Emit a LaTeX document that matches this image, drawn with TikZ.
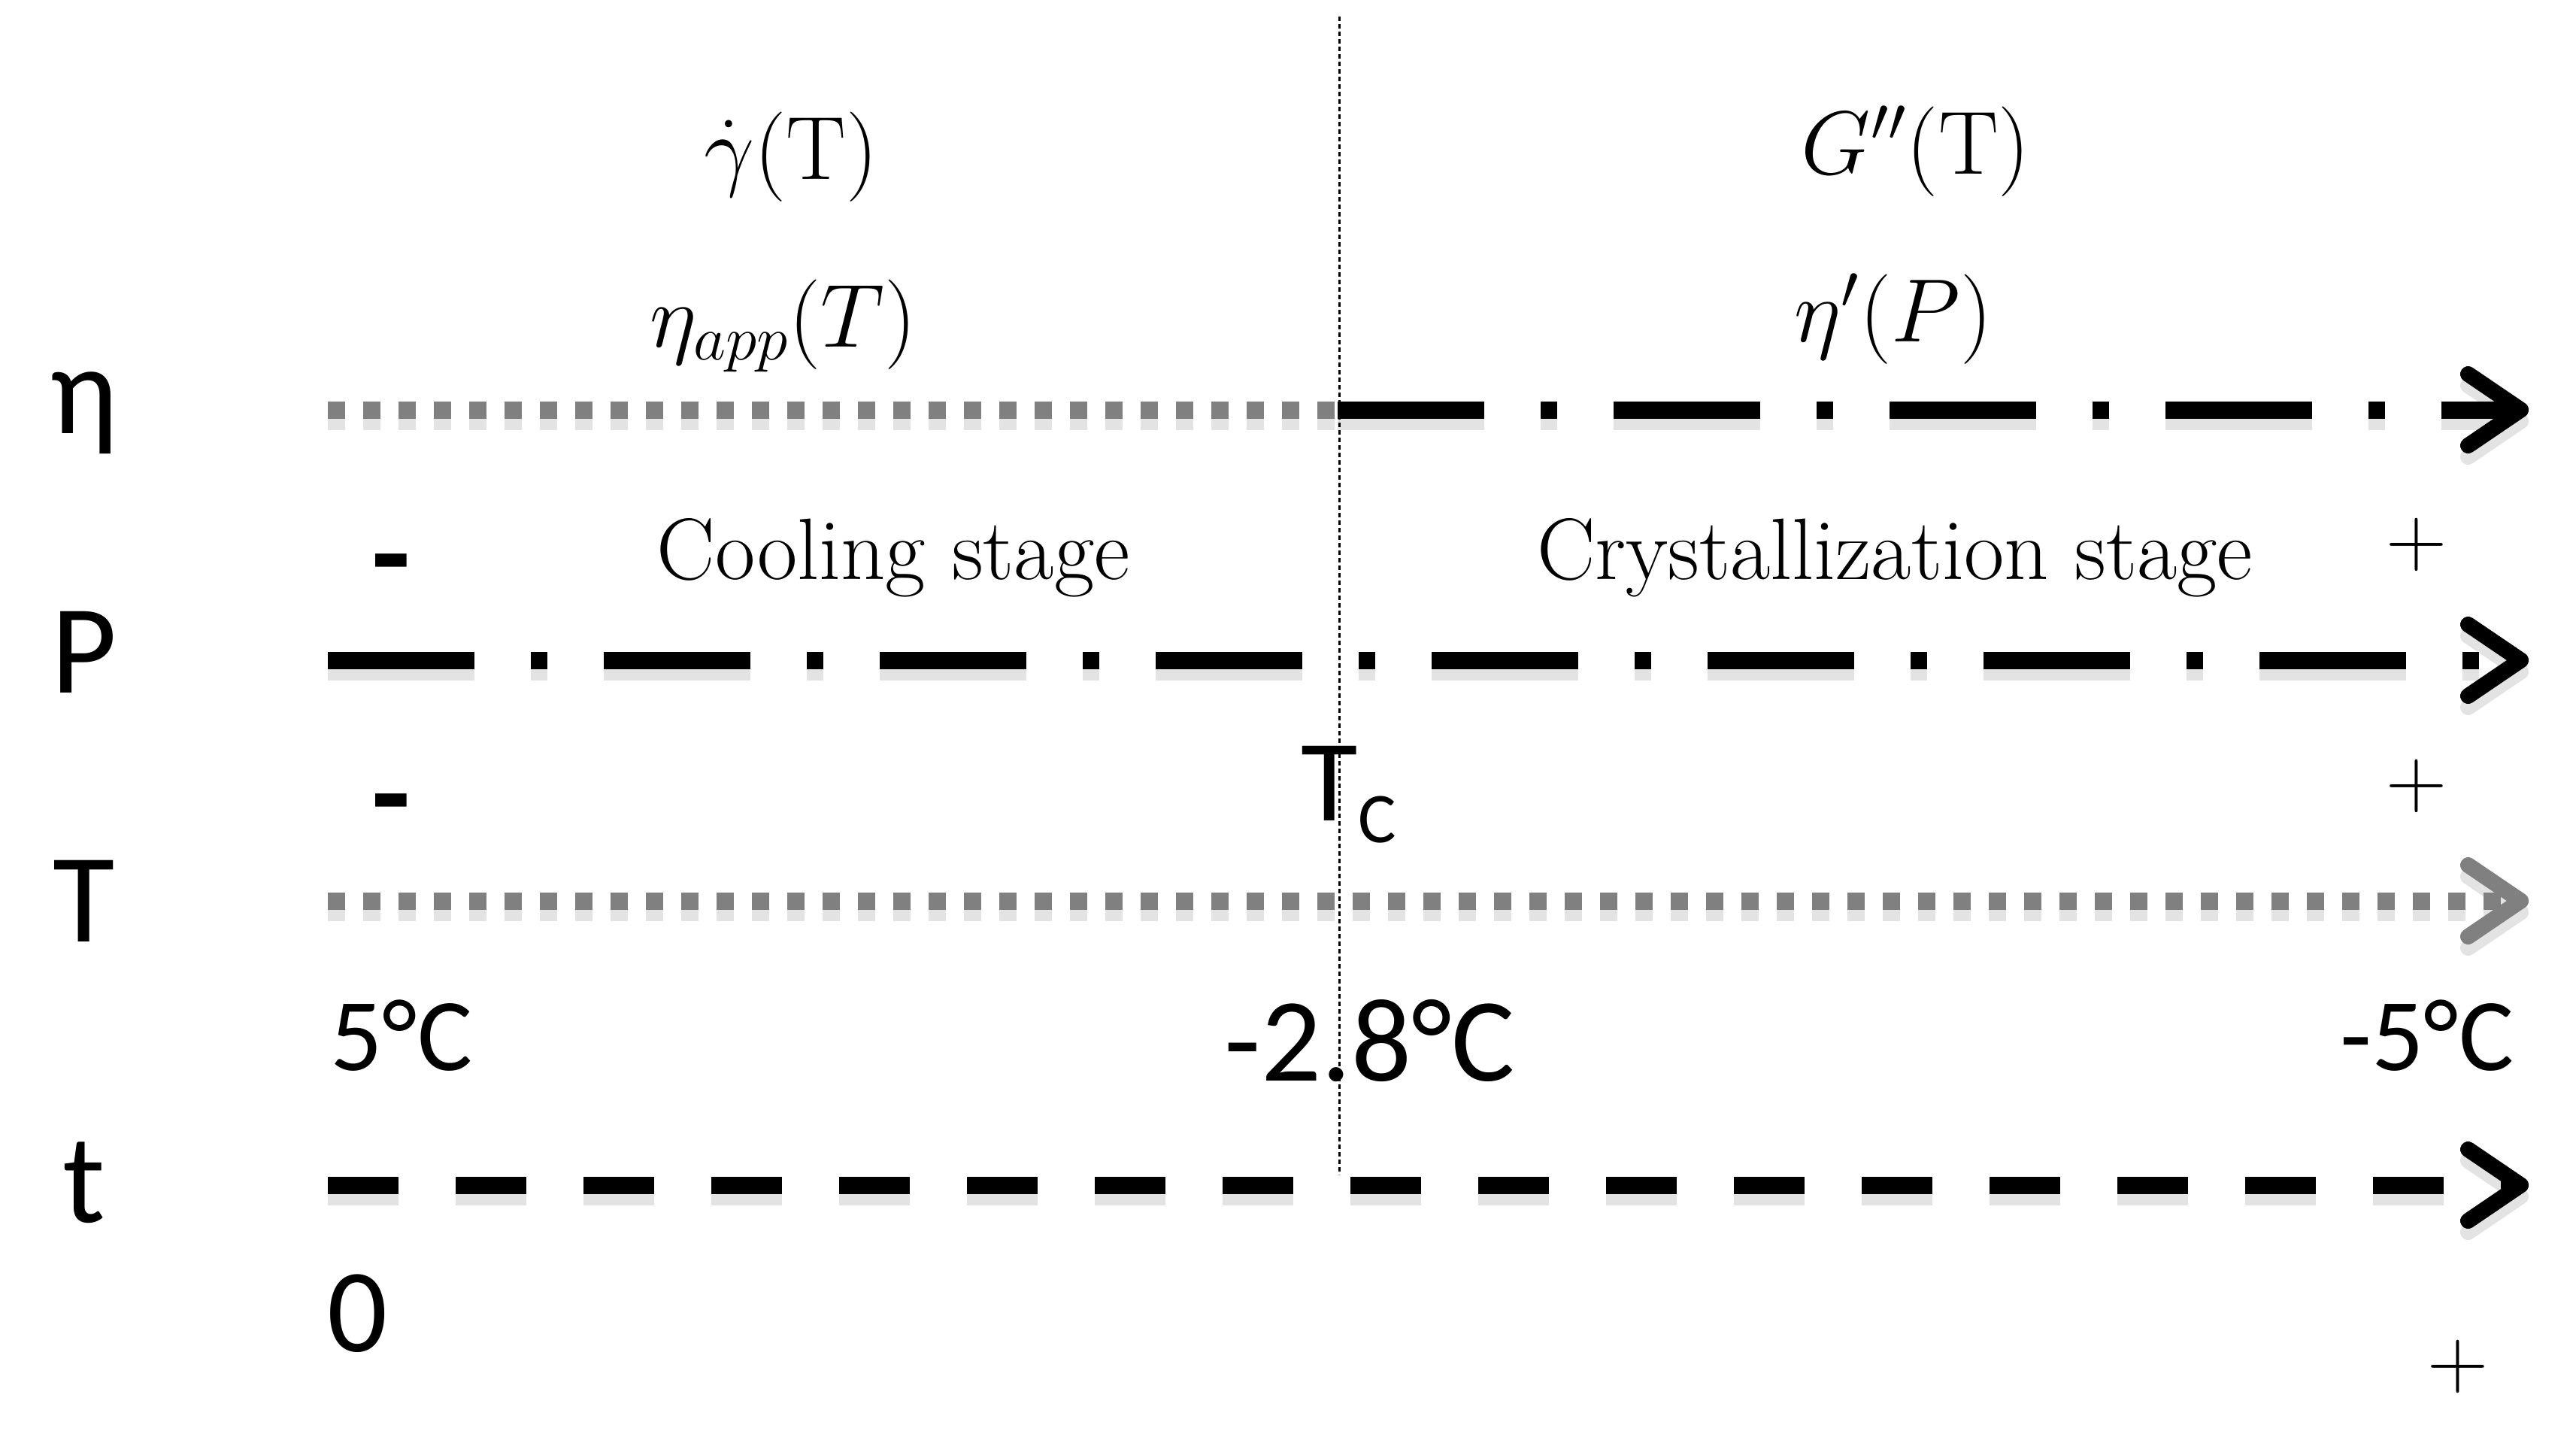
\RequirePackage{fix-cm}
\documentclass[tikz,border=0pt]{standalone}
\usepackage{amsmath}
\usepackage{fontspec}
\usepackage{xcolor}
\usepackage{tikz}
\usetikzlibrary{arrows.meta,positioning}
\newfontfamily\calib{Carlito}

\begin{document}
\begin{tikzpicture}[
      every node/.style={inner sep=0pt},
      axlbl/.style={font=\calib\fontsize{48}{56}\selectfont, anchor=base},
      tmplbl/.style={font=\calib\fontsize{39}{46}\selectfont, anchor=base},
      tmpbig/.style={font=\calib\fontsize{45}{54}\selectfont, anchor=base},
      stagelbl/.style={font=\fontsize{33}{39}\selectfont, anchor=base},
      funclbl/.style={font=\fontsize{34}{40}\selectfont, anchor=base},
      minuslbl/.style={font=\calib\bfseries\fontsize{48}{56}\selectfont},
      pluslbl/.style={font=\fontsize{32}{38}\selectfont},
      axline/.style={line width=2.3mm, #1,
                     preaction={#1, draw=black!11, line width=2.3mm,
                                transform canvas={yshift=-1.5mm}}},
      tip/.style={-{Straight Barb[length=7mm,width=9.5mm,line width=2.1mm,round]}},
      greydot/.style={dash pattern=on 2.3mm off 2.4mm},
      dashdot/.style={dash pattern=on 19.5mm off 7.5mm on 2.2mm off 7.5mm},
      longdash/.style={dash pattern=on 9.4mm off 7.6mm},
      vline/.style={line width=0.3mm, dash pattern=on 0.6mm off 0.4mm},
    ]
    \useasboundingbox (0,0) rectangle (34.26,-19.10);

    % --- axis ends ---
    \coordinate (etaS) at (4.36,-5.45);
    \coordinate (etaM) at (17.79,-5.45);
    \coordinate (etaE) at (33.63,-5.45);
    \coordinate (presS) at (4.36,-8.78);
    \coordinate (presE) at (33.63,-8.78);
    \coordinate (tempS) at (4.36,-11.98);
    \coordinate (tempE) at (33.63,-11.98);
    \coordinate (timeS) at (4.36,-15.76);
    \coordinate (timeE) at (33.63,-15.76);
    \coordinate (tcTop) at (17.81,-0.22);
    \coordinate (tcBot) at (17.81,-15.62);

    % --- axes ---
    \draw[axline=greydot, draw=black!50] (etaS) -- (etaM);
    \draw[axline={dashdot,tip}] (etaM) -- (etaE);
    \draw[axline={dashdot,tip}] (presS) -- (presE);
    \draw[axline={greydot,tip}, draw=black!50] (tempS) -- (tempE);
    \draw[axline={longdash,tip}] (timeS) -- (timeE);

    % --- axis names ---
    \foreach \lbl/\yy [count=\i] in {η/-5.76, P/-9.21, T/-12.52, t/-16.25} {
      \node[axlbl] (ax\i) at (1.12,\yy) {\lbl};
    }

    % --- functions ---
    \node[funclbl] (gdot) at (10.52,-2.38) {$\dot{\gamma}(\mathrm{T})$};
    \node[funclbl] (etaapp) at (10.42,-4.61) {$\eta_{app}(T)$};
    \node[funclbl] (gpp) at (25.48,-2.31) {$G''(\mathrm{T})$};
    \node[funclbl] (etap) at (25.18,-4.54) {$\eta'(P)$};

    % --- stages ---
    \node[stagelbl] (cool) at (11.88,-7.70) {Cooling stage};
    \node[stagelbl] (cryst) at (25.20,-7.70) {Crystallization stage};

    % --- signs ---
    \node[minuslbl] (mn1) at (5.20,-7.65) {-};
    \node[minuslbl] (mn2) at (5.20,-10.84) {-};
    \node[pluslbl] (pl1) at (32.14,-7.24) {$+$};
    \node[pluslbl] (pl2) at (32.14,-10.45) {$+$};
    \node[pluslbl] (pl3) at (32.69,-18.17) {$+$};

    % --- temperatures ---
    \node[font=\calib\fontsize{44}{52}\selectfont, anchor=base west] (tc) at (17.30,-10.91)
      {T\raisebox{-0.29cm}{\fontsize{27}{32}\selectfont C}};
    \node[tmplbl] (t5) at (5.34,-14.23) {5°C};
    \node[tmpbig] (t28) at (18.22,-14.37) {-2.8°C};
    \node[tmplbl] (tm5) at (32.28,-14.23) {-5°C};
    \node[tmpbig] (t0) at (4.76,-17.97) {0};

    \draw[vline] (tcTop) -- (tcBot);
  \end{tikzpicture}
\end{document}
